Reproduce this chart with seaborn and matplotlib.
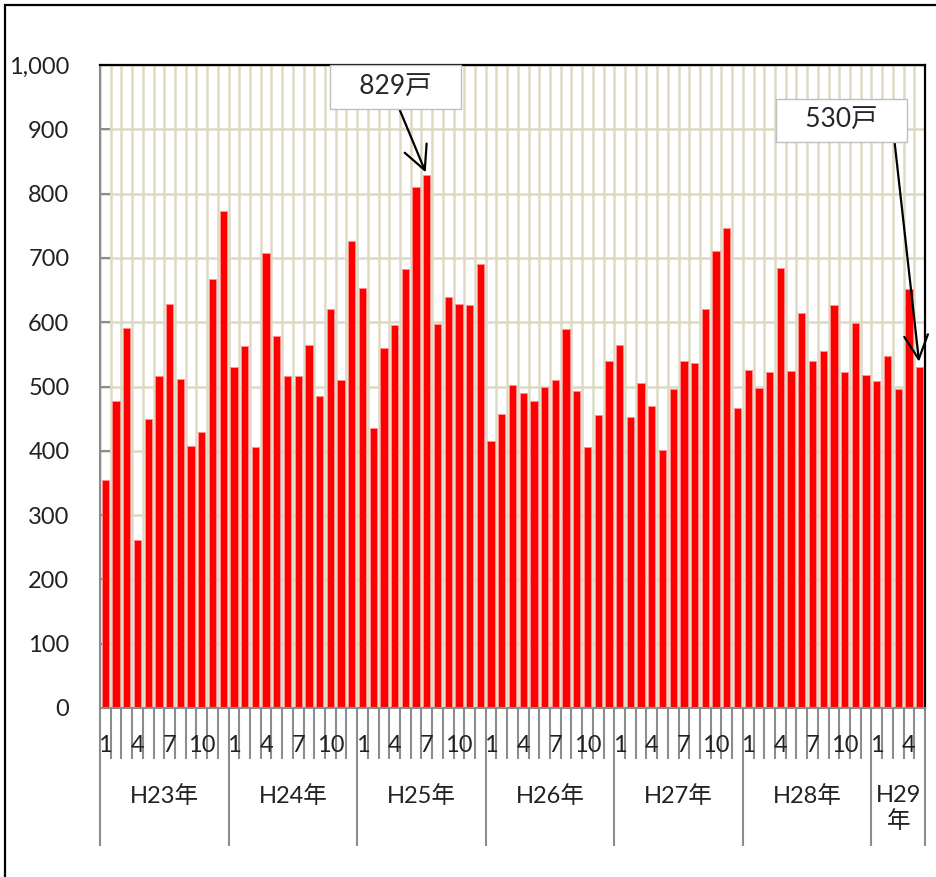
import numpy as np
import pandas as pd
import seaborn as sns
import matplotlib.pyplot as plt
from matplotlib.patches import Rectangle
from matplotlib.ticker import FuncFormatter

# monthly counts (戸)
h23 = [355, 477, 591, 261, 450, 517, 629, 511, 408, 430, 667, 773]
h24 = [531, 563, 406, 708, 579, 517, 517, 565, 486, 621, 510, 727]
h25 = [653, 436, 560, 595, 683, 810, 829, 597, 639, 629, 627, 691]
h26 = [416, 458, 502, 490, 478, 500, 510, 589, 493, 406, 455, 539]
h27 = [565, 452, 505, 469, 401, 496, 540, 537, 621, 711, 746, 466]
h28 = [525, 498, 523, 684, 524, 615, 540, 555, 627, 523, 598, 518]
h29 = [508, 547, 496, 651, 530]
year_labels = ['H23年', 'H24年', 'H25年', 'H26年', 'H27年', 'H28年', 'H29\n年']
labeled_months = [1, 4, 7, 10]


def build_frame():
    rows = []
    for label, vals in zip(year_labels, [h23, h24, h25, h26, h27, h28, h29]):
        for m, v in enumerate(vals, start=1):
            rows.append({'year': label, 'month': m, 'count': v})
    df = pd.DataFrame(rows)
    df['idx'] = np.arange(len(df))
    return df


def draw(df):
    sns.set_style('white')
    plt.rcParams['font.family'] = ['Lato', 'Noto Sans CJK JP', 'DejaVu Sans']
    text_color = '#222222'

    fig = plt.figure(figsize=(9.37, 8.77), dpi=100)
    ax = fig.add_axes([100 / 937, 1 - 708 / 877, 825 / 937, 643 / 877])

    sns.barplot(data=df, x='idx', y='count', color='#ff0000', width=0.68,
                edgecolor='#ff9090', linewidth=0.6, saturation=1, ax=ax)

    n = len(df)
    ax.set_xlim(-0.5, n - 0.5)
    ax.set_ylim(0, 1000)
    ax.set_xlabel('')
    ax.set_ylabel('')

    # category boundaries: long ticks between years, short ones between months
    sizes = df.groupby('year', sort=False).size().values
    year_edges = np.concatenate([[0], np.cumsum(sizes)]) - 0.5
    all_edges = np.arange(n + 1) - 0.5
    month_edges = [e for e in all_edges if e not in set(year_edges)]
    ax.set_xticks(year_edges)
    ax.set_xticks(month_edges, minor=True)
    ax.set_xticklabels([])
    ax.tick_params(axis='x', which='both', bottom=True, width=1.5,
                   color='#8c8c8c', direction='out')
    ax.tick_params(axis='x', which='major', length=99)
    ax.tick_params(axis='x', which='minor', length=37)

    ax.set_yticks(np.arange(0, 1001, 100))
    ax.yaxis.set_major_formatter(FuncFormatter(lambda v, p: f'{int(v):,}'))
    ax.tick_params(axis='y', left=True, length=7, width=1.5, color='#8c8c8c',
                   direction='in', pad=22, labelsize=17, labelcolor=text_color)

    ax.set_axisbelow(True)
    ax.grid(True, axis='y', color='#ddd9c3', linewidth=1.8)
    ax.grid(True, axis='x', which='both', color='#ddd9c3', linewidth=1.8)

    for side in ['left', 'bottom']:
        ax.spines[side].set_color('#8c8c8c')
        ax.spines[side].set_linewidth(1.5)
    for side in ['top', 'right']:
        ax.spines[side].set_color('black')
        ax.spines[side].set_linewidth(1.6)

    # month and year labels under the axis
    tr = ax.get_xaxis_transform()
    for _, r in df[df['month'].isin(labeled_months)].iterrows():
        ax.text(r['idx'], -0.058, str(r['month']), transform=tr,
                ha='center', va='center', fontsize=17, color=text_color)
    for label, lo, hi in zip(year_labels, year_edges[:-1], year_edges[1:]):
        ax.text((lo + hi) / 2, -0.12, label, transform=tr, ha='center',
                va='top', fontsize=17, color=text_color, linespacing=1.2)

    # callouts
    box = dict(boxstyle='square,pad=0.35', fc='white', ec='#bfbfbf', lw=1)
    head = '->,head_length=0.9,head_width=0.45'
    peak = df.loc[df['count'].idxmax()]
    ax.annotate(f"   {peak['count']}戸   ", xy=(peak['idx'], peak['count']),
                xytext=(0.358, 0.966), textcoords='axes fraction',
                ha='center', va='center', fontsize=19, bbox=box,
                arrowprops=dict(arrowstyle=head, color='black', lw=1.6,
                                relpos=(0.5, 0), shrinkA=0, shrinkB=2))
    last = df.iloc[-1]
    ax.annotate(f"   {last['count']}戸   ", xy=(last['idx'], last['count']),
                xytext=(0.899, 0.914), textcoords='axes fraction',
                ha='center', va='center', fontsize=19, bbox=box,
                arrowprops=dict(arrowstyle=head, color='black', lw=1.6,
                                relpos=(0.96, 0), shrinkA=0, shrinkB=4))

    # outer frame of the figure
    fig.patches.append(Rectangle((5 / 937, -0.1), 1.2, 1.1 - 5 / 877,
                                 transform=fig.transFigure, fill=False,
                                 ec='black', lw=1.6))

    fig.savefig('out.png', dpi=100)


def main():
    df = build_frame()
    draw(df)


if __name__ == '__main__':
    main()
